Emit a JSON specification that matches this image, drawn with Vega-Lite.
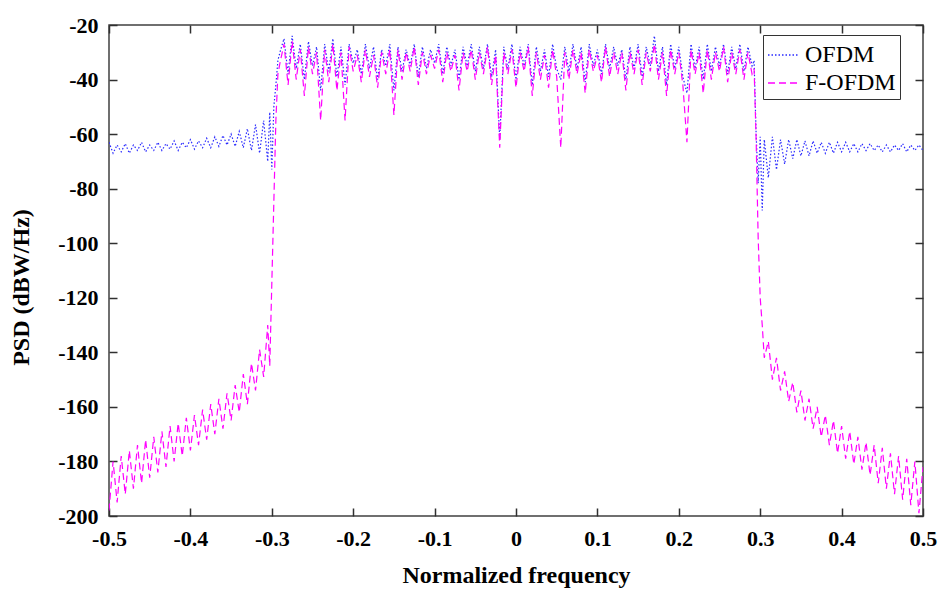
{
"$schema": "https://vega.github.io/schema/vega-lite/v6.json",
"width": 814, "height": 491,
"autosize": "none",
"padding": {"left": 109, "top": 25, "right": 15, "bottom": 77},
"background": "white",
"config": {
 "view": {"stroke": "#404040", "strokeWidth": 1.5},
 "axis": {"domain": false, "ticks": false, "tickSize": 0, "offset": 0, "grid": true, "gridColor": "#303030", "gridWidth": 1.5, "gridOpacity": 1,
  "labelFont": "Liberation Serif", "labelFontSize": 22, "labelFontWeight": "bold", "labelColor": "black",
  "titleFont": "Liberation Serif", "titleFontSize": 24, "titleFontWeight": "bold", "titleColor": "black"},
 "legend": {"orient": "none", "legendX": 654, "legendY": 10, "strokeColor": "#333333", "fillColor": "white", "padding": 4,
  "labelFont": "Liberation Serif", "labelFontSize": 24, "labelColor": "black", "symbolType": "stroke", "symbolSize": 900, "symbolStrokeWidth": 1.5, "rowPadding": 0, "labelOffset": 6}
},
"data": {"values": [
{"f":-0.5,"a":-63,"b":-198},{"f":-0.495,"a":-67,"b":-180},{"f":-0.49,"a":-64,"b":-195},{"f":-0.485,"a":-66.5,"b":-178},
{"f":-0.48,"a":-63.5,"b":-192},{"f":-0.475,"a":-67,"b":-176},{"f":-0.47,"a":-64,"b":-190},{"f":-0.465,"a":-66,"b":-174},
{"f":-0.46,"a":-63,"b":-188},{"f":-0.455,"a":-66.5,"b":-172},{"f":-0.45,"a":-64,"b":-186},{"f":-0.445,"a":-66,"b":-171},
{"f":-0.44,"a":-63,"b":-184},{"f":-0.435,"a":-66,"b":-169},{"f":-0.43,"a":-63.5,"b":-182},{"f":-0.425,"a":-65.5,"b":-167},
{"f":-0.42,"a":-62.5,"b":-180},{"f":-0.415,"a":-66,"b":-166},{"f":-0.41,"a":-63,"b":-178},{"f":-0.405,"a":-65,"b":-164},
{"f":-0.4,"a":-62,"b":-176},{"f":-0.395,"a":-65.5,"b":-163},{"f":-0.39,"a":-62.5,"b":-174},{"f":-0.385,"a":-65,"b":-161},
{"f":-0.38,"a":-61.5,"b":-172},{"f":-0.375,"a":-65,"b":-159},{"f":-0.37,"a":-61,"b":-170},{"f":-0.365,"a":-64.5,"b":-157},
{"f":-0.36,"a":-60.5,"b":-168},{"f":-0.355,"a":-64,"b":-155},{"f":-0.35,"a":-60,"b":-165},{"f":-0.345,"a":-64.5,"b":-152},
{"f":-0.34,"a":-59,"b":-162},{"f":-0.335,"a":-65,"b":-148},{"f":-0.33,"a":-58,"b":-159},{"f":-0.325,"a":-66,"b":-144},
{"f":-0.32,"a":-56.5,"b":-154},{"f":-0.315,"a":-67,"b":-139},{"f":-0.31,"a":-55,"b":-149},{"f":-0.305,"a":-70,"b":-130},
{"f":-0.3025,"a":-52,"b":-145},{"f":-0.3,"a":-73,"b":-115},{"f":-0.2975,"a":-50,"b":-85},{"f":-0.295,"a":-42,"b":-55},
{"f":-0.2925,"a":-33,"b":-38},
{"f":-0.29,"a":-30,"b":-34},{"f":-0.285,"a":-25,"b":-27},{"f":-0.28,"a":-38,"b":-42},{"f":-0.275,"a":-24,"b":-26},
{"f":-0.27,"a":-36,"b":-40},{"f":-0.265,"a":-27,"b":-29},{"f":-0.26,"a":-40,"b":-46},{"f":-0.255,"a":-26,"b":-28},
{"f":-0.25,"a":-35,"b":-38},{"f":-0.245,"a":-28,"b":-30},{"f":-0.24,"a":-44,"b":-55},{"f":-0.235,"a":-27,"b":-29},
{"f":-0.23,"a":-37,"b":-41},{"f":-0.225,"a":-25,"b":-27},{"f":-0.22,"a":-39,"b":-44},{"f":-0.215,"a":-28,"b":-30},
{"f":-0.21,"a":-42,"b":-55},{"f":-0.205,"a":-27,"b":-28},{"f":-0.2,"a":-34,"b":-37},{"f":-0.195,"a":-29,"b":-31},
{"f":-0.19,"a":-38,"b":-41},{"f":-0.185,"a":-27,"b":-29},{"f":-0.18,"a":-36,"b":-39},{"f":-0.175,"a":-28,"b":-31},
{"f":-0.17,"a":-40,"b":-43},{"f":-0.165,"a":-29,"b":-30},{"f":-0.16,"a":-35,"b":-38},{"f":-0.155,"a":-27,"b":-29},
{"f":-0.15,"a":-44,"b":-53},{"f":-0.145,"a":-28,"b":-29},{"f":-0.14,"a":-37,"b":-40},{"f":-0.135,"a":-29,"b":-30},
{"f":-0.13,"a":-35,"b":-37},{"f":-0.125,"a":-27,"b":-28},{"f":-0.12,"a":-39,"b":-42},{"f":-0.115,"a":-28,"b":-30},
{"f":-0.11,"a":-36,"b":-38},{"f":-0.105,"a":-29,"b":-31},{"f":-0.1,"a":-34,"b":-36},{"f":-0.095,"a":-27,"b":-29},
{"f":-0.09,"a":-38,"b":-41},{"f":-0.085,"a":-28,"b":-30},{"f":-0.08,"a":-35,"b":-37},{"f":-0.075,"a":-29,"b":-31},
{"f":-0.07,"a":-40,"b":-44},{"f":-0.065,"a":-28,"b":-30},{"f":-0.06,"a":-35,"b":-37},{"f":-0.055,"a":-27,"b":-29},
{"f":-0.05,"a":-37,"b":-40},{"f":-0.045,"a":-28,"b":-30},{"f":-0.04,"a":-36,"b":-38},{"f":-0.035,"a":-27,"b":-28},
{"f":-0.03,"a":-39,"b":-42},{"f":-0.025,"a":-29,"b":-31},{"f":-0.02,"a":-62,"b":-65},{"f":-0.015,"a":-28,"b":-30},
{"f":-0.01,"a":-36,"b":-38},{"f":-0.005,"a":-27,"b":-29},{"f":0,"a":-40,"b":-43},{"f":0.005,"a":-28,"b":-30},
{"f":0.01,"a":-35,"b":-37},{"f":0.015,"a":-27,"b":-28},{"f":0.02,"a":-42,"b":-46},{"f":0.025,"a":-28,"b":-30},
{"f":0.03,"a":-37,"b":-40},{"f":0.035,"a":-29,"b":-31},{"f":0.04,"a":-39,"b":-43},{"f":0.045,"a":-27,"b":-29},
{"f":0.05,"a":-36,"b":-39},{"f":0.055,"a":-40,"b":-65},{"f":0.06,"a":-28,"b":-30},{"f":0.065,"a":-37,"b":-40},
{"f":0.07,"a":-27,"b":-29},{"f":0.075,"a":-36,"b":-38},{"f":0.08,"a":-28,"b":-30},{"f":0.085,"a":-41,"b":-45},
{"f":0.09,"a":-27,"b":-29},{"f":0.095,"a":-35,"b":-37},{"f":0.1,"a":-29,"b":-31},{"f":0.105,"a":-38,"b":-41},
{"f":0.11,"a":-27,"b":-28},{"f":0.115,"a":-36,"b":-39},{"f":0.12,"a":-28,"b":-30},{"f":0.125,"a":-35,"b":-38},
{"f":0.13,"a":-29,"b":-30},{"f":0.135,"a":-40,"b":-44},{"f":0.14,"a":-28,"b":-30},{"f":0.145,"a":-36,"b":-38},
{"f":0.15,"a":-27,"b":-29},{"f":0.155,"a":-39,"b":-42},{"f":0.16,"a":-28,"b":-30},{"f":0.165,"a":-35,"b":-37},
{"f":0.17,"a":-24,"b":-27},{"f":0.175,"a":-37,"b":-40},{"f":0.18,"a":-28,"b":-30},{"f":0.185,"a":-42,"b":-46},
{"f":0.19,"a":-27,"b":-29},{"f":0.195,"a":-36,"b":-38},{"f":0.2,"a":-28,"b":-30},{"f":0.205,"a":-39,"b":-42},
{"f":0.21,"a":-45,"b":-63},{"f":0.215,"a":-27,"b":-29},{"f":0.22,"a":-36,"b":-38},{"f":0.225,"a":-28,"b":-30},
{"f":0.23,"a":-40,"b":-45},{"f":0.235,"a":-27,"b":-29},{"f":0.24,"a":-37,"b":-40},{"f":0.245,"a":-28,"b":-30},
{"f":0.25,"a":-35,"b":-37},{"f":0.255,"a":-27,"b":-28},{"f":0.26,"a":-38,"b":-41},{"f":0.265,"a":-28,"b":-30},
{"f":0.27,"a":-36,"b":-38},{"f":0.275,"a":-27,"b":-29},{"f":0.28,"a":-37,"b":-40},{"f":0.285,"a":-28,"b":-30},
{"f":0.29,"a":-35,"b":-38},{"f":0.2925,"a":-33,"b":-36},
{"f":0.295,"a":-60,"b":-62},{"f":0.2975,"a":-78,"b":-98},{"f":0.3,"a":-61,"b":-120},{"f":0.3025,"a":-88,"b":-130},
{"f":0.305,"a":-62,"b":-142},{"f":0.31,"a":-76,"b":-136},{"f":0.315,"a":-61,"b":-150},{"f":0.32,"a":-73,"b":-142},
{"f":0.325,"a":-62,"b":-154},{"f":0.33,"a":-71,"b":-147},{"f":0.335,"a":-62,"b":-158},{"f":0.34,"a":-69,"b":-151},
{"f":0.345,"a":-62,"b":-162},{"f":0.35,"a":-68,"b":-154},{"f":0.355,"a":-62.5,"b":-165},{"f":0.36,"a":-68,"b":-157},
{"f":0.365,"a":-62.5,"b":-168},{"f":0.37,"a":-67,"b":-160},{"f":0.375,"a":-63,"b":-171},{"f":0.38,"a":-67,"b":-163},
{"f":0.385,"a":-63,"b":-174},{"f":0.39,"a":-67,"b":-165},{"f":0.395,"a":-63,"b":-177},{"f":0.4,"a":-66.5,"b":-167},
{"f":0.405,"a":-63,"b":-179},{"f":0.41,"a":-66.5,"b":-169},{"f":0.415,"a":-63.5,"b":-181},{"f":0.42,"a":-66.5,"b":-171},
{"f":0.425,"a":-63.5,"b":-183},{"f":0.43,"a":-66,"b":-173},{"f":0.435,"a":-63.5,"b":-185},{"f":0.44,"a":-66,"b":-174},
{"f":0.445,"a":-64,"b":-188},{"f":0.45,"a":-66.5,"b":-175},{"f":0.455,"a":-64,"b":-190},{"f":0.46,"a":-66.5,"b":-177},
{"f":0.465,"a":-64,"b":-192},{"f":0.47,"a":-66,"b":-178},{"f":0.475,"a":-63.5,"b":-194},{"f":0.48,"a":-66.5,"b":-179},
{"f":0.485,"a":-64,"b":-196},{"f":0.49,"a":-66,"b":-180},{"f":0.495,"a":-64,"b":-199},{"f":0.5,"a":-66,"b":-182}
]},
"transform": [{"fold": ["a", "b"], "as": ["s", "v"]}],
"mark": {"type": "line", "strokeWidth": 1.2, "clip": true},
"encoding": {
 "x": {"field": "f", "type": "quantitative", "scale": {"domain": [-0.5, 0.5], "nice": false, "zero": false},
  "axis": {"orient": "bottom", "values": [-0.5,-0.4,-0.3,-0.2,-0.1,0,0.1,0.2,0.3,0.4,0.5], "labelExpr": "'' + datum.value", "labelFlush": false, "labelPadding": 12, "gridDash": [8, 475, 8, 1000], "title": "Normalized frequency", "titlePadding": 14}},
 "y": {"field": "v", "type": "quantitative", "scale": {"domain": [-200, -20], "nice": false, "zero": false},
  "axis": {"orient": "left", "values": [-200,-180,-160,-140,-120,-100,-80,-60,-40,-20], "labelExpr": "'' + datum.value", "labelPadding": 11, "gridDash": [8, 798, 8, 1000], "title": "PSD (dBW/Hz)", "titlePadding": 24, "titleY": 262}},
 "color": {"field": "s", "type": "nominal", "scale": {"domain": ["a", "b"], "range": ["#2a2aff", "#ff00ff"]},
  "legend": {"title": null, "labelExpr": "datum.label == 'a' ? 'OFDM' : 'F-OFDM'"}},
 "strokeDash": {"field": "s", "type": "nominal", "scale": {"domain": ["a", "b"], "range": [[1.5, 2], [7, 4]]},
  "legend": {"title": null, "labelExpr": "datum.label == 'a' ? 'OFDM' : 'F-OFDM'"}}
}
}
